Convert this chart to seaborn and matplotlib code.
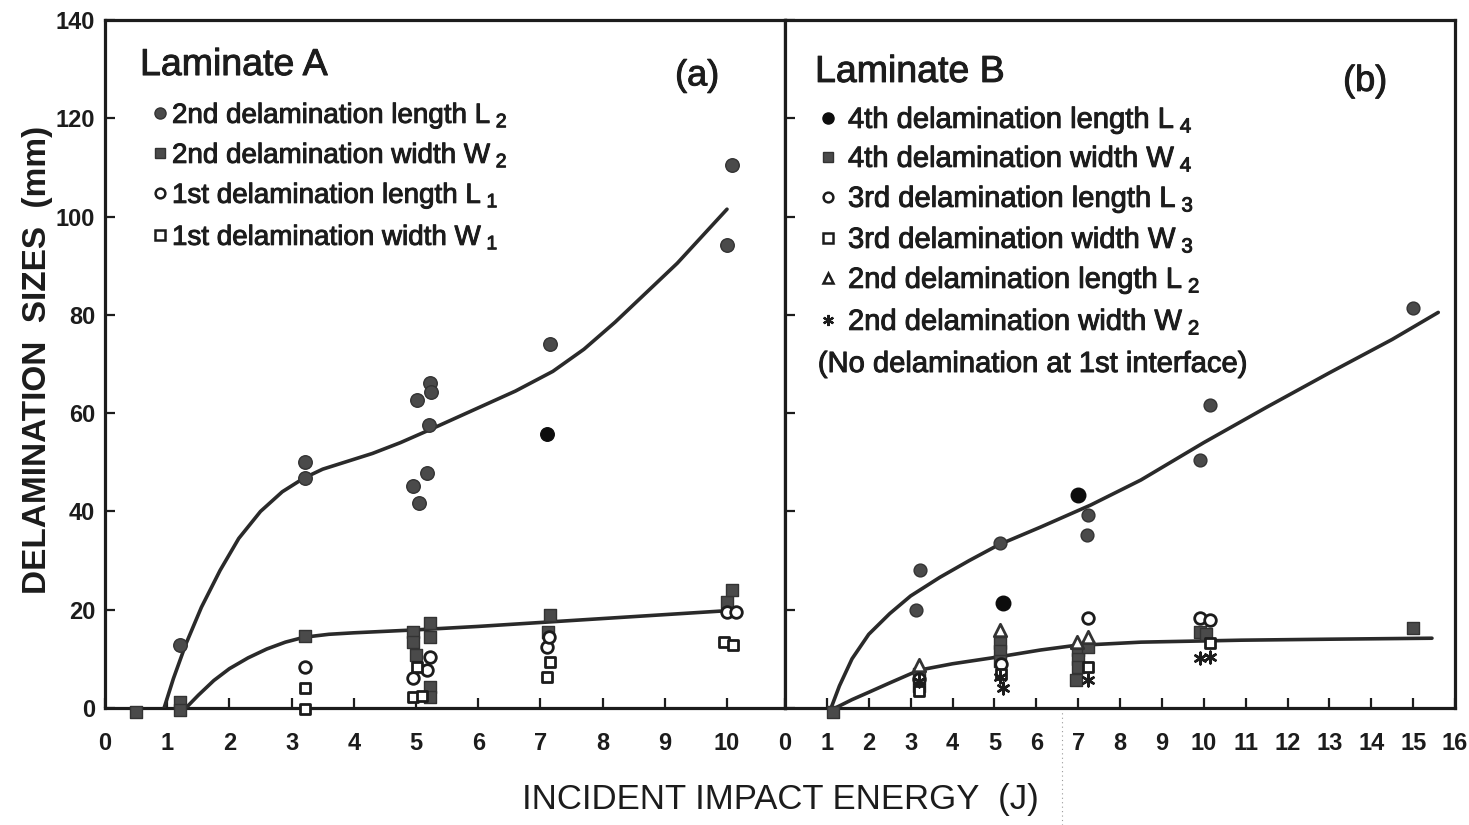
import matplotlib
matplotlib.use("Agg")
import matplotlib.pyplot as plt
import matplotlib.patheffects as pe
from matplotlib.lines import Line2D
import seaborn as sns

# ---------------- Laminate A ----------------
a_L2_x = [1.2, 3.22, 3.22, 5.02, 5.21, 5.23, 5.24, 4.95, 5.05, 5.18, 7.15, 10.0, 10.08]
a_L2_y = [12.8, 50.0, 46.8, 62.7, 57.6, 66.1, 64.3, 45.2, 41.7, 47.8, 74.1, 94.3, 110.5]
a_L2_dark_x = [7.1]
a_L2_dark_y = [55.8]

a_W2_x = [0.5, 1.2, 1.2, 3.22, 4.95, 4.95, 5.0, 5.23, 5.23, 5.23, 5.23, 7.15, 7.12, 10.0, 10.08]
a_W2_y = [-0.8, 1.2, -0.5, 14.6, 15.5, 13.5, 10.8, 17.3, 14.5, 4.3, 2.3, 19.0, 15.5, 21.6, 24.0]

a_L1_x = [3.22, 4.95, 5.18, 5.23, 7.1, 7.14, 10.0, 10.15]
a_L1_y = [8.4, 6.1, 7.8, 10.4, 12.5, 14.5, 19.6, 19.6]

a_W1_x = [3.22, 3.22, 5.02, 4.95, 5.1, 7.1, 7.15, 9.95, 10.1]
a_W1_y = [4.1, -0.3, 8.4, 2.2, 2.4, 6.3, 9.4, 13.4, 12.8]

# fitted trend curves (knots along the drawn curves)
a_L2_fit_x = [0.95, 1.1, 1.3, 1.55, 1.85, 2.15, 2.5, 2.85, 3.2, 3.5, 3.9, 4.3, 4.75, 5.2, 5.9, 6.6, 7.2, 7.7, 8.2, 8.7, 9.2, 9.6, 10.0]
a_L2_fit_y = [0.0, 6.0, 13.0, 20.5, 28.0, 34.5, 40.0, 44.0, 46.8, 48.6, 50.2, 51.8, 54.0, 56.5, 60.5, 64.5, 68.5, 73.0, 78.5, 84.5, 90.5, 96.0, 101.5]

a_W2_fit_x = [1.3, 1.5, 1.75, 2.0, 2.3, 2.6, 2.9, 3.2, 3.6, 4.0, 5.0, 6.0, 7.0, 8.5, 10.0]
a_W2_fit_y = [0.0, 2.6, 5.6, 8.0, 10.2, 12.0, 13.4, 14.4, 15.0, 15.3, 15.9, 16.6, 17.4, 18.6, 19.8]

# ---------------- Laminate B ----------------
b_L4_x = [3.13, 3.22, 5.13, 7.2, 7.24, 9.9, 10.14, 15.0]
b_L4_y = [19.9, 28.1, 33.6, 35.2, 39.2, 50.5, 61.7, 81.4]
b_L4_dark_x = [5.2, 7.0]
b_L4_dark_y = [21.4, 43.3]

b_W4_x = [1.15, 3.2, 3.2, 5.13, 5.13, 5.13, 7.0, 7.0, 7.0, 6.95, 7.24, 9.9, 10.05, 15.0]
b_W4_y = [-0.8, 7.0, 4.5, 13.2, 11.5, 9.5, 11.8, 10.0, 8.3, 5.7, 12.4, 15.5, 15.0, 16.3]

b_L3_x = [3.2, 5.15, 7.24, 9.9, 10.14]
b_L3_y = [6.0, 9.0, 18.3, 18.3, 17.9]

b_W3_x = [3.2, 5.15, 7.24, 10.14]
b_W3_y = [3.5, 7.0, 8.3, 13.2]

b_L2_x = [3.2, 5.13, 6.97, 7.24]
b_L2_y = [8.8, 15.9, 13.4, 14.5]

b_W2_x = [3.2, 5.2, 5.13, 7.24, 9.9, 10.14]
b_W2_y = [5.5, 4.1, 6.3, 5.7, 10.2, 10.4]

b_L_fit_x = [1.1, 1.3, 1.6, 2.0, 2.5, 3.0, 3.7, 4.4, 5.1, 6.1, 7.3, 8.5, 10.0, 11.5, 13.0, 14.5, 15.6]
b_L_fit_y = [0.0, 4.5, 10.0, 15.0, 19.2, 22.8, 26.6, 30.0, 33.2, 36.8, 41.3, 46.4, 54.0, 61.2, 68.2, 75.0, 80.5]

b_W_fit_x = [1.2, 1.6, 2.0, 2.5, 3.2, 4.0, 5.1, 6.1, 6.9, 8.5, 10.9, 13.0, 15.45]
b_W_fit_y = [0.0, 1.7, 3.2, 5.1, 7.7, 9.0, 10.4, 11.8, 12.7, 13.4, 13.8, 14.0, 14.2]

a_xticks = list(range(0, 11))
b_xticks = list(range(0, 17))
y_ticks = list(range(0, 141, 20))

# ---------------- styling ----------------
sns.set_style("ticks")
plt.rcParams["font.family"] = ["Liberation Sans", "DejaVu Sans"]
plt.rcParams["mathtext.fontset"] = "custom"
plt.rcParams["mathtext.rm"] = "Liberation Sans"
plt.rcParams["mathtext.it"] = "Liberation Sans"
plt.rcParams["mathtext.bf"] = "Liberation Sans:bold"

INK = "#1c1c1c"
GREY = "#4a4a4a"
TICKFONT = ["Liberation Sans Narrow", "Liberation Sans", "DejaVu Sans"]
HEAVY = [pe.withStroke(linewidth=0.7, foreground=INK)]

W, H = 1469, 825
fig = plt.figure(figsize=(W / 100, H / 100), dpi=100)
fig.patch.set_facecolor("white")
axA = fig.add_axes([105 / W, (H - 708) / H, 680 / W, 688 / H])
axB = fig.add_axes([785 / W, (H - 708) / H, 670 / W, 688 / H])


def points(ax, x, y, marker, face, edge, size, lw):
    sns.scatterplot(x=x, y=y, ax=ax, marker=marker, s=size, color=face,
                    edgecolor=edge, linewidth=lw, clip_on=False, zorder=4,
                    legend=False)


def curve(ax, x, y):
    sns.lineplot(x=x, y=y, ax=ax, sort=False, estimator=None, color="#2a2a2a",
                 linewidth=2.6, zorder=3, legend=False)


ASTER = (6, 2, 0)

# Laminate A marks
curve(axA, a_L2_fit_x, a_L2_fit_y)
curve(axA, a_W2_fit_x, a_W2_fit_y)
points(axA, a_L2_x, a_L2_y, "o", GREY, "#333333", 95, 1.0)
points(axA, a_L2_dark_x, a_L2_dark_y, "o", "#0d0d0d", "#0d0d0d", 95, 1.0)
points(axA, a_W2_x, a_W2_y, "s", GREY, "#333333", 80, 1.0)
points(axA, a_L1_x, a_L1_y, "o", "white", INK, 70, 2.0)
points(axA, a_W1_x, a_W1_y, "s", "white", INK, 62, 2.0)

# Laminate B marks
curve(axB, b_L_fit_x, b_L_fit_y)
curve(axB, b_W_fit_x, b_W_fit_y)
points(axB, b_L4_x, b_L4_y, "o", GREY, "#333333", 85, 1.0)
points(axB, b_L4_dark_x, b_L4_dark_y, "o", "#0d0d0d", "#0d0d0d", 110, 1.0)
points(axB, b_W4_x, b_W4_y, "s", GREY, "#333333", 75, 1.0)
points(axB, b_L2_x, b_L2_y, "^", "white", "#333333", 80, 2.0)
points(axB, b_L3_x, b_L3_y, "o", "white", INK, 70, 2.0)
points(axB, b_W3_x, b_W3_y, "s", "white", INK, 55, 2.0)
points(axB, b_W2_x, b_W2_y, ASTER, INK, INK, 70, 1.8)

# axes, ticks, frame
for ax, xmax, xt in ((axA, 680 / 62.2, a_xticks), (axB, 16, b_xticks)):
    ax.set_xlim(0, xmax)
    ax.set_ylim(0, 140)
    ax.set_xticks(xt)
    ax.set_yticks(y_ticks)
    ax.set_xlabel("")
    ax.set_ylabel("")
    ax.set_facecolor("white")
    for sp in ax.spines.values():
        sp.set_visible(True)
        sp.set_linewidth(2.3)
        sp.set_color(INK)
    ax.tick_params(axis="both", direction="in", length=7, width=1.6,
                   color=INK, top=False, right=False)
    ax.tick_params(axis="x", pad=17)
    ax.set_xticklabels([str(t) for t in xt], fontfamily=TICKFONT,
                       fontweight="bold", fontsize=17, color=INK)

axA.tick_params(axis="y", pad=7)
axA.set_yticklabels([str(t) for t in y_ticks], fontfamily=TICKFONT,
                    fontweight="bold", fontsize=17, color=INK)
axB.tick_params(axis="y", labelleft=False)

# panel titles
for ax, x, y, s, ha, fs in ((axA, 0.0515, 0.920, "Laminate A", "left", 27),
                            (axA, 0.871, 0.905, "(a)", "center", 26),
                            (axB, 0.0448, 0.910, "Laminate B", "left", 27),
                            (axB, 0.866, 0.897, "(b)", "center", 26)):
    ax.text(x, y, s, transform=ax.transAxes, fontsize=fs, color=INK,
            va="baseline", ha=ha, path_effects=HEAVY)


def key(ax, xm, xt, py, marker, face, edge, ms, mew, label, fs):
    ym = (708 - py) / 688
    yb = (708 - py - 10) / 688
    ax.add_line(Line2D([xm], [ym], transform=ax.transAxes, marker=marker,
                       markersize=ms, markerfacecolor=face,
                       markeredgecolor=edge, markeredgewidth=mew,
                       linestyle="none", clip_on=False))
    ax.text(xt, yb, label, transform=ax.transAxes, fontsize=fs, color=INK,
            va="baseline", ha="left", path_effects=HEAVY)


FA = 20
key(axA, 0.081, 0.0985, 113, "o", GREY, "#333333", 8, 1.0,
    r"2nd delamination length L$_{\ 2}$", FA)
key(axA, 0.081, 0.0985, 153, "s", GREY, "#333333", 7, 1.0,
    r"2nd delamination width W$_{\ 2}$", FA)
key(axA, 0.081, 0.0985, 193, "o", "white", INK, 7, 1.8,
    r"1st delamination length L$_{\ 1}$", FA)
key(axA, 0.081, 0.0985, 235, "s", "white", INK, 6.5, 1.8,
    r"1st delamination width W$_{\ 1}$", FA)

FB = 21
key(axB, 0.064, 0.094, 118, "o", "#0d0d0d", "#0d0d0d", 8, 1.0,
    r"4th delamination length L$_{\ 4}$", FB)
key(axB, 0.064, 0.094, 157, "s", GREY, "#333333", 7, 1.0,
    r"4th delamination width W$_{\ 4}$", FB)
key(axB, 0.064, 0.094, 197, "o", "white", INK, 7, 1.8,
    r"3rd delamination length L$_{\ 3}$", FB)
key(axB, 0.064, 0.094, 238, "s", "white", INK, 6.5, 1.8,
    r"3rd delamination width W$_{\ 3}$", FB)
key(axB, 0.064, 0.094, 278, "^", "white", INK, 7.5, 1.8,
    r"2nd delamination length L$_{\ 2}$", FB)
key(axB, 0.064, 0.094, 320, ASTER, INK, INK, 8, 1.6,
    r"2nd delamination width W$_{\ 2}$", FB)
axB.text(0.049, (708 - 372) / 688, "(No delamination at 1st interface)",
         transform=axB.transAxes, fontsize=FB, color=INK, va="baseline",
         ha="left", path_effects=HEAVY)

# shared axis titles
fig.text(780 / W, 1 - 800 / H, "INCIDENT IMPACT ENERGY  (J)", fontsize=25,
         color=INK, ha="center", va="center")
fig.text(38 / W, 1 - 360 / H, "DELAMINATION  SIZES  (mm)", fontsize=24,
         fontweight="bold", color=INK, ha="center", va="center", rotation=90)

# faint fold line running down the right panel
fig.add_artist(Line2D([1062 / W, 1062 / W], [0, 1 - 160 / H],
                      transform=fig.transFigure, linestyle=(0, (1, 3)),
                      color="#9a9a9a", linewidth=0.8, zorder=0))

fig.savefig("out.png", dpi=100, facecolor="white")
